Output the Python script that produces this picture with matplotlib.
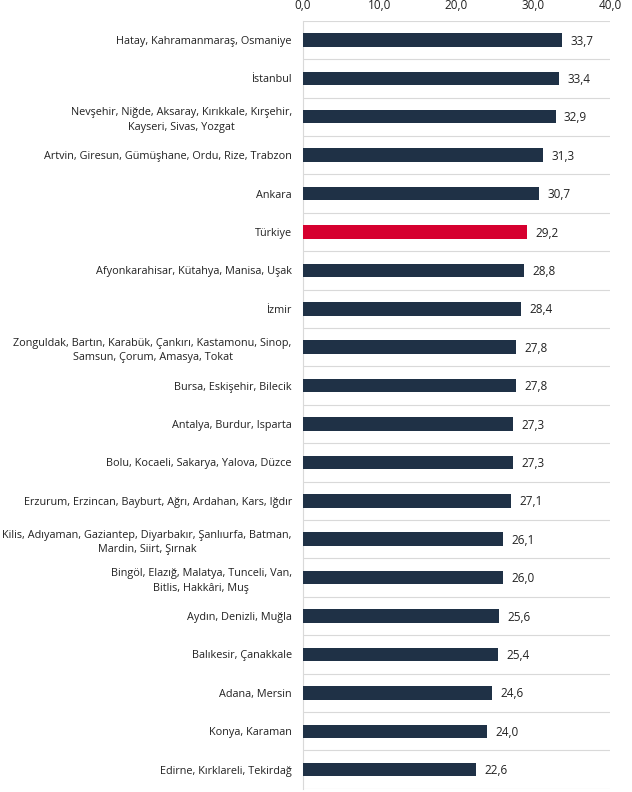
import matplotlib.pyplot as plt

regions = [
    "Hatay, Kahramanmaraş, Osmaniye",
    "İstanbul",
    "Nevşehir, Niğde, Aksaray, Kırıkkale, Kırşehir,\nKayseri, Sivas, Yozgat",
    "Artvin, Giresun, Gümüşhane, Ordu, Rize, Trabzon",
    "Ankara",
    "Türkiye",
    "Afyonkarahisar, Kütahya, Manisa, Uşak",
    "İzmir",
    "Zonguldak, Bartın, Karabük, Çankırı, Kastamonu, Sinop,\nSamsun, Çorum, Amasya, Tokat",
    "Bursa, Eskişehir, Bilecik",
    "Antalya, Burdur, Isparta",
    "Bolu, Kocaeli, Sakarya, Yalova, Düzce",
    "Erzurum, Erzincan, Bayburt, Ağrı, Ardahan, Kars, Iğdır",
    "Kilis, Adıyaman, Gaziantep, Diyarbakır, Şanlıurfa, Batman,\nMardin, Siirt, Şırnak",
    "Bingöl, Elazığ, Malatya, Tunceli, Van,\nBitlis, Hakkâri, Muş",
    "Aydın, Denizli, Muğla",
    "Balıkesir, Çanakkale",
    "Adana, Mersin",
    "Konya, Karaman",
    "Edirne, Kırklareli, Tekirdağ",
]
values = [33.7, 33.4, 32.9, 31.3, 30.7, 29.2, 28.8, 28.4, 27.8, 27.8,
          27.3, 27.3, 27.1, 26.1, 26.0, 25.6, 25.4, 24.6, 24.0, 22.6]
xticks = [0, 10, 20, 30, 40]

plt.rcParams['font.family'] = ['Open Sans', 'DejaVu Sans']

fig = plt.figure(figsize=(6.32, 7.92), dpi=100)
ax = fig.add_axes([0.4794, 0.004, 0.4858, 0.9698])

n = len(values)
ypos = list(range(n))
colors = ['#d6002f' if r == 'Türkiye' else '#1f3146' for r in regions]
ax.barh(ypos, values, height=0.35, color=colors, zorder=3)

for y, v in zip(ypos, values):
    ax.text(v + 1.1, y + 0.03, f"{v:.1f}".replace('.', ','), va='center', ha='left',
            fontsize=8.5, color='#222222')

# separators between categories
ax.hlines([k - 0.5 for k in range(n + 1)], 0, 40, color='#d9d9d9', lw=0.8, zorder=1)

ax.set_ylim(n - 0.5, -0.5)
ax.set_xlim(0, 40)
ax.set_yticks(ypos)
ax.set_yticklabels(regions, fontsize=7.8, multialignment='center',
                   linespacing=1.45, color='#222222')
ax.set_xticks(xticks)
ax.set_xticklabels([f"{t:.1f}".replace('.', ',') for t in xticks], fontsize=8.5, color='#222222')
ax.xaxis.tick_top()
ax.tick_params(axis='both', length=0)
ax.tick_params(axis='y', pad=8)
ax.tick_params(axis='x', pad=6)

for s in ['top', 'right', 'bottom']:
    ax.spines[s].set_visible(False)
ax.spines['left'].set_color('#d9d9d9')
ax.spines['left'].set_linewidth(0.8)

fig.savefig('out.png', dpi=100)
